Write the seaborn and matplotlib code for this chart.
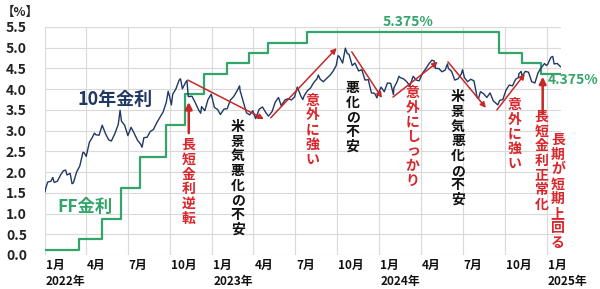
import matplotlib
matplotlib.use("Agg")
import matplotlib.pyplot as plt
import matplotlib.dates as mdates
from matplotlib.transforms import ScaledTranslation
import numpy as np
import pandas as pd
import seaborn as sns

# ---------------- data ----------------
y10_dates = [
    "2022-01-01", "2022-01-03", "2022-01-07", "2022-01-14", "2022-01-18", "2022-01-21", "2022-01-28",
    "2022-02-04", "2022-02-10", "2022-02-15", "2022-02-18", "2022-02-25", "2022-03-01", "2022-03-04",
    "2022-03-11", "2022-03-18", "2022-03-25", "2022-03-28", "2022-04-01", "2022-04-08", "2022-04-14",
    "2022-04-19", "2022-04-22", "2022-04-29", "2022-05-06", "2022-05-13", "2022-05-20", "2022-05-26",
    "2022-06-03", "2022-06-10", "2022-06-14", "2022-06-17", "2022-06-24", "2022-07-01", "2022-07-08",
    "2022-07-15", "2022-07-22", "2022-07-29", "2022-08-01", "2022-08-05", "2022-08-12", "2022-08-19",
    "2022-08-26", "2022-09-02", "2022-09-09", "2022-09-16", "2022-09-23", "2022-09-27", "2022-09-30",
    "2022-10-04", "2022-10-07", "2022-10-14", "2022-10-21", "2022-10-24", "2022-10-28", "2022-11-04",
    "2022-11-07", "2022-11-10", "2022-11-18", "2022-11-25", "2022-12-02", "2022-12-07", "2022-12-09",
    "2022-12-16", "2022-12-23", "2022-12-30",
    "2023-01-06", "2023-01-13", "2023-01-19", "2023-01-27", "2023-02-03", "2023-02-10", "2023-02-17",
    "2023-02-24", "2023-03-02", "2023-03-03", "2023-03-10", "2023-03-17", "2023-03-24", "2023-03-31",
    "2023-04-06", "2023-04-14", "2023-04-21", "2023-04-28", "2023-05-04", "2023-05-12", "2023-05-19",
    "2023-05-26", "2023-06-01", "2023-06-09", "2023-06-16", "2023-06-23", "2023-06-30", "2023-07-06",
    "2023-07-14", "2023-07-18", "2023-07-21", "2023-07-28", "2023-08-04", "2023-08-11", "2023-08-18",
    "2023-08-21", "2023-08-25", "2023-09-01", "2023-09-08", "2023-09-15", "2023-09-22", "2023-09-29",
    "2023-10-03", "2023-10-06", "2023-10-13", "2023-10-19", "2023-10-23", "2023-10-27", "2023-11-03",
    "2023-11-09", "2023-11-17", "2023-11-24", "2023-12-01", "2023-12-08", "2023-12-15", "2023-12-22",
    "2023-12-27", "2023-12-29",
    "2024-01-05", "2024-01-12", "2024-01-19", "2024-01-26", "2024-02-01", "2024-02-02", "2024-02-09",
    "2024-02-13", "2024-02-16", "2024-02-23", "2024-03-01", "2024-03-08", "2024-03-15", "2024-03-22",
    "2024-03-28", "2024-04-05", "2024-04-12", "2024-04-19", "2024-04-25", "2024-04-30", "2024-05-03",
    "2024-05-10", "2024-05-17", "2024-05-24", "2024-05-29", "2024-05-31", "2024-06-07", "2024-06-14",
    "2024-06-21", "2024-06-28", "2024-07-01", "2024-07-05", "2024-07-12", "2024-07-19", "2024-07-26",
    "2024-08-02", "2024-08-05", "2024-08-09", "2024-08-16", "2024-08-23", "2024-08-30", "2024-09-06",
    "2024-09-13", "2024-09-16", "2024-09-20", "2024-09-27", "2024-10-04", "2024-10-11", "2024-10-18",
    "2024-10-25", "2024-10-31", "2024-11-01", "2024-11-06", "2024-11-08", "2024-11-15", "2024-11-22",
    "2024-11-29", "2024-12-06", "2024-12-13", "2024-12-20", "2024-12-27", "2024-12-31",
    "2025-01-03", "2025-01-10", "2025-01-14", "2025-01-17", "2025-01-24", "2025-01-31",
]
y10_values = [
    1.52, 1.63, 1.76, 1.78, 1.87, 1.75, 1.78,
    1.93, 2.03, 2.05, 1.93, 1.97, 1.72, 1.74,
    2.00, 2.15, 2.48, 2.46, 2.38, 2.72, 2.83,
    2.94, 2.90, 2.89, 3.13, 2.93, 2.78, 2.75,
    2.94, 3.15, 3.49, 3.23, 3.13, 2.88, 3.08,
    2.93, 2.77, 2.67, 2.60, 2.83, 2.84, 2.98,
    3.03, 3.19, 3.32, 3.45, 3.69, 3.95, 3.83,
    3.62, 3.88, 4.01, 4.22, 4.25, 4.01, 4.16,
    4.21, 3.82, 3.83, 3.68, 3.51, 3.42, 3.58,
    3.48, 3.75, 3.88,
    3.56, 3.51, 3.39, 3.52, 3.53, 3.74, 3.82,
    3.95, 4.08, 3.97, 3.70, 3.43, 3.38, 3.48,
    3.29, 3.52, 3.57, 3.44, 3.35, 3.46, 3.69,
    3.80, 3.60, 3.74, 3.77, 3.74, 3.81, 4.05,
    3.83, 3.75, 3.84, 3.96, 4.03, 4.16, 4.25,
    4.34, 4.24, 4.18, 4.26, 4.33, 4.43, 4.57,
    4.81, 4.78, 4.63, 4.99, 4.86, 4.84, 4.57,
    4.63, 4.44, 4.47, 4.22, 4.23, 3.91, 3.90,
    3.79, 3.88,
    4.05, 3.94, 4.15, 4.14, 3.87, 4.03, 4.18,
    4.31, 4.28, 4.25, 4.18, 4.08, 4.31, 4.22,
    4.20, 4.39, 4.50, 4.62, 4.70, 4.68, 4.50,
    4.50, 4.42, 4.46, 4.61, 4.50, 4.43, 4.22,
    4.25, 4.36, 4.47, 4.28, 4.18, 4.24, 4.20,
    3.79, 3.78, 3.94, 3.89, 3.80, 3.91, 3.72,
    3.65, 3.62, 3.73, 3.75, 3.98, 4.10, 4.08,
    4.24, 4.28, 4.37, 4.43, 4.31, 4.43, 4.41,
    4.18, 4.15, 4.40, 4.52, 4.62, 4.57,
    4.60, 4.77, 4.79, 4.61, 4.62, 4.54,
]

ff_dates = ["2022-01-01", "2022-03-17", "2022-05-05", "2022-06-16", "2022-07-28", "2022-09-22",
            "2022-11-03", "2022-12-15", "2023-02-02", "2023-03-23", "2023-05-04", "2023-07-27",
            "2024-09-19", "2024-11-08", "2024-12-19", "2025-01-31"]
ff_values = [0.125, 0.375, 0.875, 1.625, 2.375, 3.125, 3.875, 4.375, 4.625, 4.875, 5.125, 5.375,
             4.875, 4.625, 4.375, 4.375]

tick_dates = pd.date_range("2022-01-01", "2025-01-01", freq="QS")
tick_labels = ["1月\n2022年", "4月", "7月", "10月", "1月\n2023年", "4月", "7月", "10月",
               "1月\n2024年", "4月", "7月", "10月", "1月\n2025年"]
y_ticks = [0.0, 0.5, 1.0, 1.5, 2.0, 2.5, 3.0, 3.5, 4.0, 4.5, 5.0, 5.5]

# vertical annotations: (text, date of column, value of first char, colour key)
vtexts = [
    ("長短金利逆転", "2022-11-11", 2.65, "red"),
    ("米景気悪化の不安", "2023-02-26", 3.09, "black"),
    ("意外に強い", "2023-08-09", 3.72, "red"),
    ("悪化の不安", "2023-11-04", 4.03, "black"),
    ("意外にしっかり", "2024-03-14", 3.91, "red"),
    ("米景気悪化の不安", "2024-06-21", 3.81, "black"),
    ("意外に強い", "2024-10-23", 3.62, "red"),
    ("長短金利正常化", "2024-12-21", 3.33, "red"),
    ("長期が短期上回る", "2025-01-25", 2.77, "red"),
]
# arrows: (start date, start value, end date, end value)
trend_arrows = [
    ("2022-11-09", 4.22, "2023-04-24", 3.28),
    ("2023-05-09", 3.31, "2023-09-30", 4.99),
    ("2023-11-02", 4.90, "2024-01-07", 3.79),
    ("2024-01-31", 3.81, "2024-05-08", 4.66),
    ("2024-05-30", 4.66, "2024-08-21", 3.55),
    ("2024-09-14", 3.50, "2024-11-14", 4.37),
]
up_arrows = [
    ("2022-11-11", 2.94, 3.69),
    ("2024-12-23", 3.41, 4.30),
]

# ---------------- style ----------------
sns.set_style("white")
plt.rcParams["font.family"] = ["Noto Sans CJK JP", "DejaVu Sans"]
plt.rcParams["font.weight"] = "bold"

NAVY = "#1F3864"
GREEN = "#33A56B"
RED_T = "#D9262B"
RED_A = "#C62828"
BLACK = "#111111"
GRID = "#D9D9D9"

fig = plt.figure(figsize=(6, 2.89), dpi=100)
ax = fig.add_axes([45 / 600, 1 - 255 / 289, (561 - 45) / 600, (255 - 27) / 289])

df10 = pd.DataFrame({"date": pd.to_datetime(y10_dates), "rate": y10_values})
dff = pd.DataFrame({"date": pd.to_datetime(ff_dates), "rate": ff_values})

sns.lineplot(data=dff, x="date", y="rate", ax=ax, color=GREEN, lw=1.6,
             drawstyle="steps-post", zorder=2)
sns.lineplot(data=df10, x="date", y="rate", ax=ax, color=NAVY, lw=1.0, zorder=3)

ax.set_xlim(pd.Timestamp("2022-01-01"), pd.Timestamp("2025-02-01"))
ax.set_ylim(0, 5.5)
ax.set_xlabel("")
ax.set_ylabel("")
for s in ax.spines.values():
    s.set_visible(False)

ax.set_xticks(tick_dates)
ax.set_xticklabels(tick_labels, ha="left", multialignment="left", linespacing=1.25)
ax.set_yticks(y_ticks)
ax.set_yticklabels([f"{v:.1f}" for v in y_ticks])
ax.tick_params(axis="x", length=0, pad=3, labelsize=8.5, labelcolor=BLACK)
ax.tick_params(axis="y", length=0, pad=13, labelsize=10, labelcolor="#222222")
for lab in ax.get_xticklabels():
    lab.set_transform(lab.get_transform() + ScaledTranslation(1 / 100, 0, fig.dpi_scale_trans))
    lab.set_fontweight("bold")
for lab in ax.get_yticklabels():
    lab.set_fontweight("bold")
ax.grid(True, color=GRID, lw=0.8)
ax.set_axisbelow(True)

fig.text(2 / 600, 1 - 12 / 289, "【%】", fontsize=9, fontweight="bold", va="center", ha="left")

# series labels
ax.text(pd.Timestamp("2022-03-12"), 3.74, "10年金利", color=NAVY, fontsize=13,
        fontweight="bold", ha="left", va="center")
ax.text(pd.Timestamp("2022-01-29"), 1.16, "FF金利", color=GREEN, fontsize=12.5,
        fontweight="bold", ha="left", va="center")
ax.text(pd.Timestamp("2024-01-09"), 5.62, "5.375%", color=GREEN, fontsize=10,
        fontweight="bold", ha="left", va="center", clip_on=False)
ax.text(pd.Timestamp("2025-01-03"), 4.22, "4.375%", color=GREEN, fontsize=10,
        fontweight="bold", ha="left", va="center", clip_on=False)

# arrows
for x0, y0, x1, y1 in trend_arrows:
    ax.annotate("", xy=(pd.Timestamp(x1), y1), xytext=(pd.Timestamp(x0), y0),
                arrowprops=dict(arrowstyle="-|>", color=RED_A, lw=1.1, mutation_scale=8,
                                shrinkA=0, shrinkB=0), zorder=4)
for xd, y0, y1 in up_arrows:
    ax.annotate("", xy=(pd.Timestamp(xd), y1), xytext=(pd.Timestamp(xd), y0),
                arrowprops=dict(arrowstyle="-|>", color=RED_A, lw=1.8, mutation_scale=10,
                                shrinkA=0, shrinkB=0), zorder=4)

# vertical texts
pitch = 14.7 * 72 / 100  # points
colors = {"red": RED_T, "black": BLACK}
for txt, xd, yv, ck in vtexts:
    for i, ch in enumerate(txt):
        ax.annotate(ch, xy=(pd.Timestamp(xd), yv), xytext=(0, -i * pitch),
                    textcoords="offset points", ha="center", va="center",
                    fontsize=10, fontweight="bold", color=colors[ck], annotation_clip=False)

fig.savefig("out.png", dpi=100)
